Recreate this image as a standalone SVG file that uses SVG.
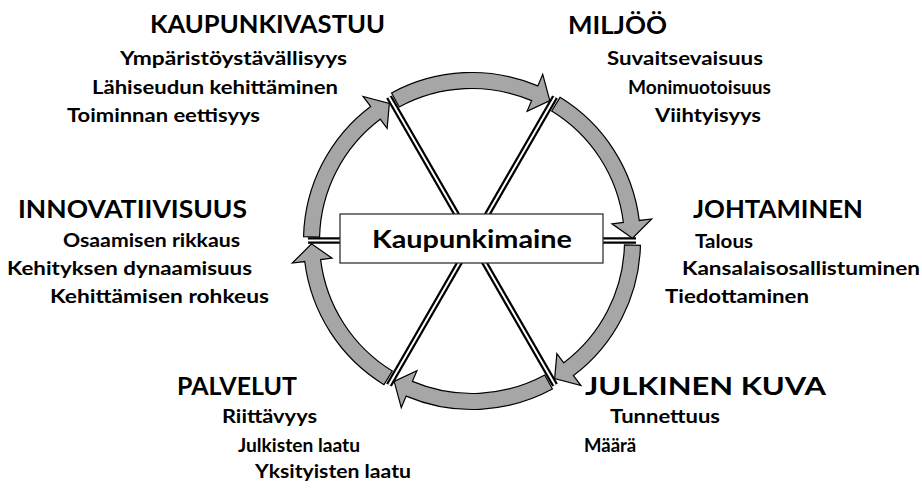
<svg xmlns="http://www.w3.org/2000/svg" xmlns:xlink="http://www.w3.org/1999/xlink" width="922" height="488" viewBox="0 0 922 488">
<style>
text{font-family:Lato,"Open Sans","Liberation Sans",sans-serif;font-weight:bold;fill:#000}
.t{font-size:25px}
.s{font-size:18.5px}
.sepb{stroke:#000;stroke-width:6.5;fill:none}
.sepw{stroke:#fff;stroke-width:2;fill:none}
.arc{fill:#a6a6a6;stroke:#000;stroke-width:1.2;stroke-linejoin:miter}
</style>
<defs>
<path id="arc" d="M 640.44 245.41 A 168.5 168.5 0 0 1 573.41 375.57 L 580.93 385.55 L 554.66 378.58 L 556.86 353.61 L 563.78 362.79 A 152.5 152.5 0 0 0 624.45 244.99 Z"/>
</defs>
<rect width="922" height="488" fill="#fff"/>
<g id="connectors">
<g id="separators">
<line class="sepb" x1="308" y1="240.5" x2="636" y2="240.5"/>
<line class="sepw" x1="308" y1="240.5" x2="636" y2="240.5"/>
<line class="sepb" x1="389" y1="97" x2="555" y2="385"/>
<line class="sepw" x1="389" y1="97" x2="555" y2="385"/>
<line class="sepb" x1="555" y1="97" x2="389" y2="385"/>
<line class="sepw" x1="555" y1="97" x2="389" y2="385"/>
</g>
<g id="arrows">
<use xlink:href="#arc" class="arc"/>
<use xlink:href="#arc" class="arc" transform="rotate(60 472 241)"/>
<use xlink:href="#arc" class="arc" transform="rotate(120 472 241)"/>
<use xlink:href="#arc" class="arc" transform="rotate(180 472 241)"/>
<use xlink:href="#arc" class="arc" transform="rotate(240 472 241)"/>
<use xlink:href="#arc" class="arc" transform="rotate(300 472 241)"/>
</g>
</g>
<g id="center">
<rect x="340" y="214" width="263" height="49" fill="#fff" stroke="#333" stroke-width="1.3"/>
<text class="t" x="372" y="248" textLength="200" lengthAdjust="spacingAndGlyphs">Kaupunkimaine</text>
</g>
<g id="kaupunkivastuu">
<text class="t" x="150" y="33" textLength="235" lengthAdjust="spacingAndGlyphs">KAUPUNKIVASTUU</text>
<text class="s" x="120" y="65" textLength="227" lengthAdjust="spacingAndGlyphs">Ympäristöystävällisyys</text>
<text class="s" x="92" y="94" textLength="246" lengthAdjust="spacingAndGlyphs">Lähiseudun kehittäminen</text>
<text class="s" x="67" y="122" textLength="193" lengthAdjust="spacingAndGlyphs">Toiminnan eettisyys</text>
</g>
<g id="miljoo">
<text class="t" x="568" y="34" textLength="99" lengthAdjust="spacingAndGlyphs">MILJÖÖ</text>
<text class="s" x="607" y="65" textLength="156" lengthAdjust="spacingAndGlyphs">Suvaitsevaisuus</text>
<text class="s" x="628" y="94" textLength="143" lengthAdjust="spacingAndGlyphs">Monimuotoisuus</text>
<text class="s" x="655" y="122" textLength="106" lengthAdjust="spacingAndGlyphs">Viihtyisyys</text>
</g>
<g id="innovatiivisuus">
<text class="t" x="18" y="218" textLength="229" lengthAdjust="spacingAndGlyphs">INNOVATIIVISUUS</text>
<text class="s" x="63" y="247" textLength="177" lengthAdjust="spacingAndGlyphs">Osaamisen rikkaus</text>
<text class="s" x="7" y="275" textLength="245" lengthAdjust="spacingAndGlyphs">Kehityksen dynaamisuus</text>
<text class="s" x="50" y="303" textLength="219" lengthAdjust="spacingAndGlyphs">Kehittämisen rohkeus</text>
</g>
<g id="johtaminen">
<text class="t" x="693" y="218" textLength="170" lengthAdjust="spacingAndGlyphs">JOHTAMINEN</text>
<text class="s" x="695" y="248" textLength="58" lengthAdjust="spacingAndGlyphs">Talous</text>
<text class="s" x="682" y="275" textLength="238" lengthAdjust="spacingAndGlyphs">Kansalaisosallistuminen</text>
<text class="s" x="665" y="303" textLength="144" lengthAdjust="spacingAndGlyphs">Tiedottaminen</text>
</g>
<g id="palvelut">
<text class="t" x="177" y="395" textLength="120" lengthAdjust="spacingAndGlyphs">PALVELUT</text>
<text class="s" x="222" y="423" textLength="95" lengthAdjust="spacingAndGlyphs">Riittävyys</text>
<text class="s" x="238" y="452" textLength="122" lengthAdjust="spacingAndGlyphs">Julkisten laatu</text>
<text class="s" x="255" y="478" textLength="156" lengthAdjust="spacingAndGlyphs">Yksityisten laatu</text>
</g>
<g id="julkinen-kuva">
<text class="t" x="585" y="395" textLength="241" lengthAdjust="spacingAndGlyphs">JULKINEN KUVA</text>
<text class="s" x="610" y="423" textLength="110" lengthAdjust="spacingAndGlyphs">Tunnettuus</text>
<text class="s" x="584" y="452">Määrä</text>
</g>
</svg>
